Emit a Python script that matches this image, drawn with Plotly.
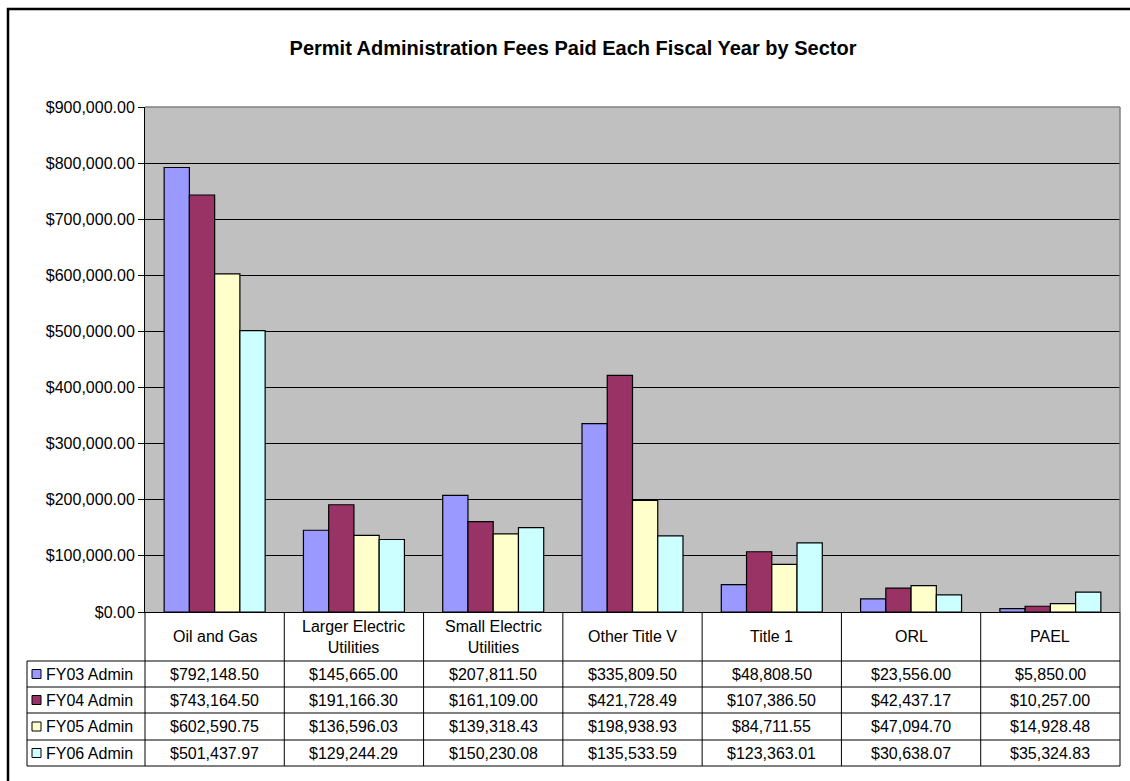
import plotly.graph_objects as go

# Sectors and fee data per fiscal year
sectors = ["Oil and Gas", "Larger Electric Utilities", "Small Electric Utilities",
           "Other Title V", "Title 1", "ORL", "PAEL"]
sector_labels = ["Oil and Gas", "Larger Electric<br>Utilities", "Small Electric<br>Utilities",
                 "Other Title V", "Title 1", "ORL", "PAEL"]
series_names = ["FY03 Admin", "FY04 Admin", "FY05 Admin", "FY06 Admin"]
fy03 = [792148.50, 145665.00, 207811.50, 335809.50, 48808.50, 23556.00, 5850.00]
fy04 = [743164.50, 191166.30, 161109.00, 421728.49, 107386.50, 42437.17, 10257.00]
fy05 = [602590.75, 136596.03, 139318.43, 198938.93, 84711.55, 47094.70, 14928.48]
fy06 = [501437.97, 129244.29, 150230.08, 135533.59, 123363.01, 30638.07, 35324.83]
series_values = [fy03, fy04, fy05, fy06]
colors = ["#9999FF", "#993366", "#FFFFCC", "#CCFFFF"]

W, H = 1130, 781
ML, MR, MT, MB = 145, 10, 107, 169
PW = W - ML - MR
PH = H - MT - MB
FONT = "Arial, Liberation Sans, sans-serif"
TXT = 16


def px_x(p):
    return (p - ML) / PW


def px_y(p):
    return (H - MB - p) / PH


fig = go.Figure()
for name, vals, col in zip(series_names, series_values, colors):
    fig.add_trace(go.Bar(
        x=sectors, y=vals, name=name,
        marker=dict(color=col, line=dict(color="black", width=1.2)),
    ))

shapes = []
annotations = []

# outer chart frame
shapes.append(dict(type="rect", xref="paper", yref="paper",
                   x0=px_x(8), x1=px_x(W + 10), y0=px_y(H + 10), y1=px_y(9),
                   line=dict(color="black", width=2.5), layer="below"))

# data table geometry (pixel rows)
n = len(sectors)
header_top, header_bot = H - MB, 661
row_edges = [661, 687, 713, 740, 766]
legend_left = 27

line_style = dict(color="black", width=1)
# vertical column lines
for i in range(n + 1):
    shapes.append(dict(type="line", xref="paper", yref="paper",
                       x0=i / n, x1=i / n, y0=px_y(header_top), y1=px_y(row_edges[-1]),
                       line=line_style))
# legend column left edge
shapes.append(dict(type="line", xref="paper", yref="paper",
                   x0=px_x(legend_left), x1=px_x(legend_left),
                   y0=px_y(row_edges[0]), y1=px_y(row_edges[-1]), line=line_style))
# horizontal row lines
for r in row_edges:
    shapes.append(dict(type="line", xref="paper", yref="paper",
                       x0=px_x(legend_left), x1=1, y0=px_y(r), y1=px_y(r),
                       line=line_style))

# header labels
for i, lab in enumerate(sector_labels):
    annotations.append(dict(xref="paper", yref="paper", x=(i + 0.5) / n,
                            y=px_y((header_top + header_bot) / 2),
                            text=lab, showarrow=False, xanchor="center", yanchor="middle",
                            font=dict(family=FONT, size=TXT, color="black")))

# value rows with legend keys
for k, (name, vals, col) in enumerate(zip(series_names, series_values, colors)):
    top, bot = row_edges[k], row_edges[k + 1]
    mid = (top + bot) / 2
    shapes.append(dict(type="rect", xref="paper", yref="paper",
                       x0=px_x(32), x1=px_x(41), y0=px_y(mid + 4.5), y1=px_y(mid - 4.5),
                       fillcolor=col, line=dict(color="black", width=1)))
    annotations.append(dict(xref="paper", yref="paper", x=px_x(44), y=px_y(mid),
                            text=name, showarrow=False, xanchor="left", yanchor="middle",
                            font=dict(family=FONT, size=TXT, color="black")))
    for i, v in enumerate(vals):
        annotations.append(dict(xref="paper", yref="paper", x=(i + 0.5) / n, y=px_y(mid),
                                text=f"${v:,.2f}", showarrow=False,
                                xanchor="center", yanchor="middle",
                                font=dict(family=FONT, size=TXT, color="black")))

# plot-area top/right border in grey
shapes.append(dict(type="line", xref="paper", yref="paper", x0=0, x1=1, y0=1, y1=1,
                   line=dict(color="#808080", width=1.5)))
shapes.append(dict(type="line", xref="paper", yref="paper", x0=1, x1=1, y0=0, y1=1,
                   line=dict(color="#808080", width=1.5)))

fig.update_layout(
    width=W, height=H,
    margin=dict(l=ML, r=MR, t=MT, b=MB, pad=0),
    paper_bgcolor="white", plot_bgcolor="#C0C0C0",
    barmode="group", bargap=0.275, bargroupgap=0,
    showlegend=False,
    title=dict(text="<b>Permit Administration Fees Paid Each Fiscal Year by Sector</b>",
               x=573 / W, xref="container", xanchor="center",
               y=1 - 48 / H, yref="container", yanchor="middle",
               font=dict(family=FONT, size=20, color="black")),
    font=dict(family=FONT, size=TXT, color="black"),
    xaxis=dict(showticklabels=False, showgrid=False, ticks="",
               showline=True, linecolor="black", linewidth=1,
               range=[-0.5, n - 0.5]),
    yaxis=dict(range=[0, 900000], dtick=100000, tickprefix="$", tickformat=",.2f",
               showgrid=True, gridcolor="black", gridwidth=1,
               showline=True, linecolor="black", linewidth=1,
               ticks="outside", ticklen=6, tickcolor="black",
               tickfont=dict(family=FONT, size=TXT, color="black"),
               zeroline=False),
    shapes=shapes, annotations=annotations,
)

fig.write_html("out.html")
